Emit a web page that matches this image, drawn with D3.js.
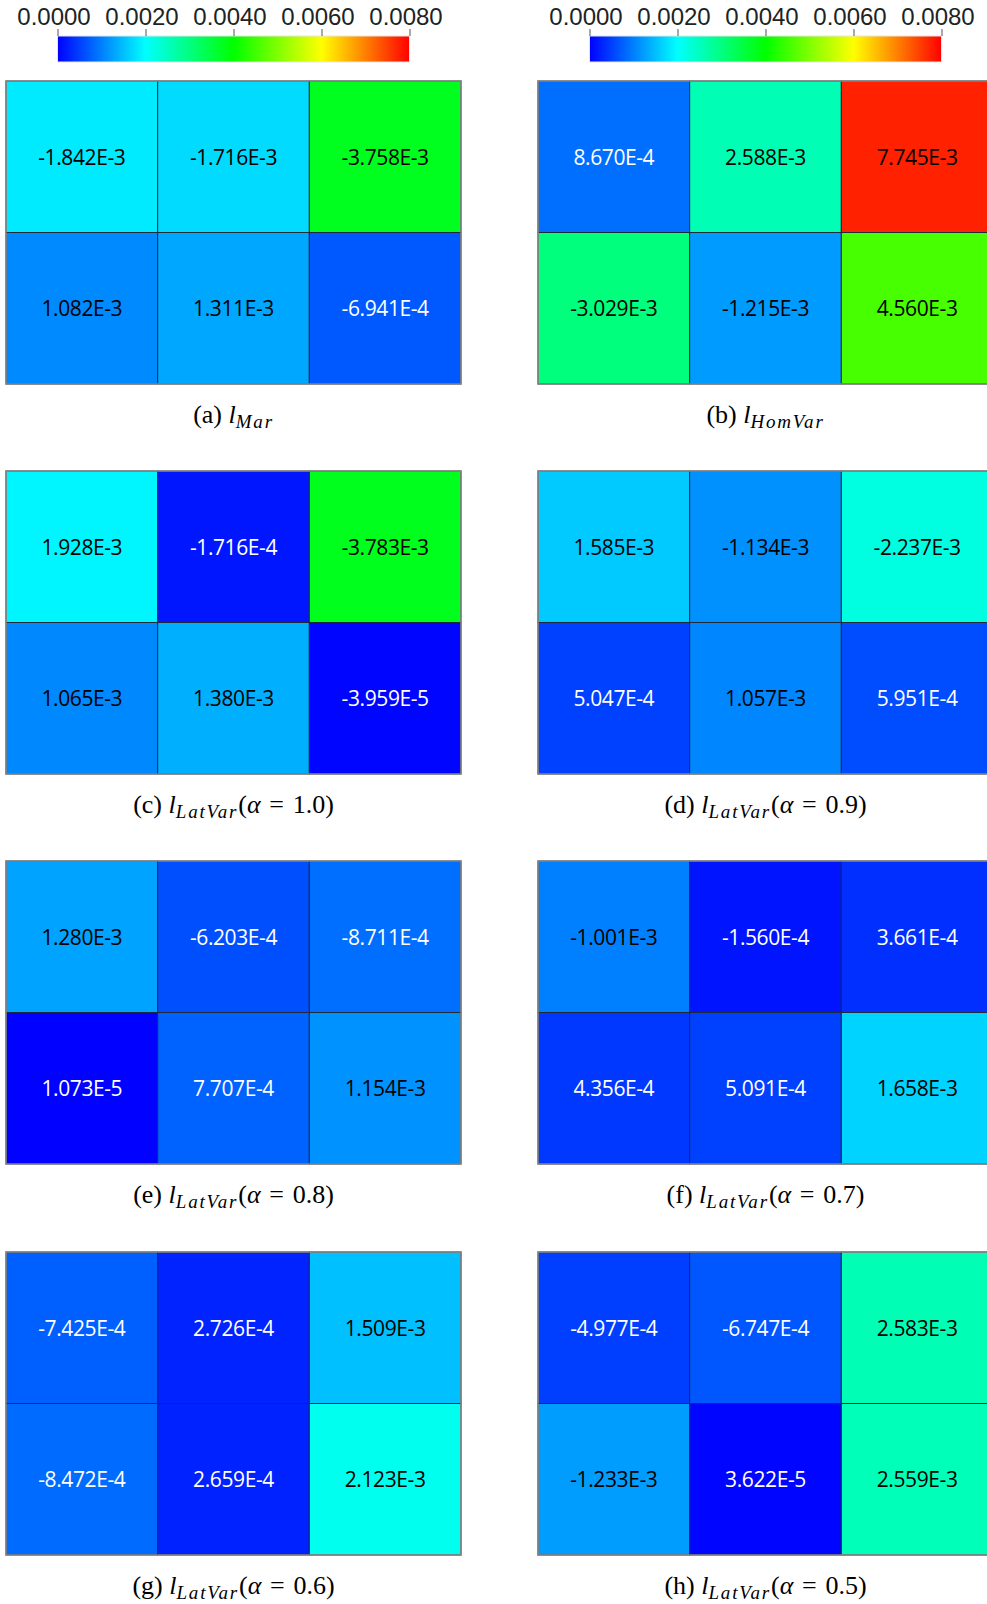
<!DOCTYPE html>
<html>
<head>
<meta charset="utf-8">
<script src="https://cdn.jsdelivr.net/npm/d3@7"></script>
<style>
  html, body { margin: 0; padding: 0; background: #fff; }
  svg { display: block; }
</style>
</head>
<body>
<svg id="fig" width="987" height="1604"></svg>
<script>
// Cell values for each case, 2 rows x 3 columns, listed row by row (top row first)
const valuesMar      = [-1.842e-3, -1.716e-3, -3.758e-3, 1.082e-3, 1.311e-3, -6.941e-4];
const valuesHomVar   = [8.670e-4, 2.588e-3, 7.745e-3, -3.029e-3, -1.215e-3, 4.560e-3];
const valuesLatVar10 = [1.928e-3, -1.716e-4, -3.783e-3, 1.065e-3, 1.380e-3, -3.959e-5];
const valuesLatVar09 = [1.585e-3, -1.134e-3, -2.237e-3, 5.047e-4, 1.057e-3, 5.951e-4];
const valuesLatVar08 = [1.280e-3, -6.203e-4, -8.711e-4, 1.073e-5, 7.707e-4, 1.154e-3];
const valuesLatVar07 = [-1.001e-3, -1.560e-4, 3.661e-4, 4.356e-4, 5.091e-4, 1.658e-3];
const valuesLatVar06 = [-7.425e-4, 2.726e-4, 1.509e-3, -8.472e-4, 2.659e-4, 2.123e-3];
const valuesLatVar05 = [-4.977e-4, -6.747e-4, 2.583e-3, -1.233e-3, 3.622e-5, 2.559e-3];

// Caption parts: letter, subscript of l, parameter text
const captionLetters = ["a", "b", "c", "d", "e", "f", "g", "h"];
const captionSubs    = ["Mar", "HomVar", "LatVar", "LatVar", "LatVar", "LatVar", "LatVar", "LatVar"];
const captionAlphas  = [null, null, "1.0", "0.9", "0.8", "0.7", "0.6", "0.5"];

// Colour bar
const colorStops = [0, 0.002, 0.004, 0.006, 0.008];
const colorRange = ["#0000ff", "#00ffff", "#00ff00", "#ffff00", "#ff0000"];
const colorTicks = [0, 0.002, 0.004, 0.006, 0.008];

const panels = [valuesMar, valuesHomVar, valuesLatVar10, valuesLatVar09,
                valuesLatVar08, valuesLatVar07, valuesLatVar06, valuesLatVar05];

const svg = d3.select("#fig");

const color = d3.scaleLinear().domain(colorStops).range(colorRange).clamp(true);

const panelW = 455, panelH = 303;
const colX = [6, 538];
const rowY = [81, 471, 861, 1252];

const xBand = d3.scaleBand().domain([0, 1, 2]).range([0, panelW]);
const yBand = d3.scaleBand().domain([0, 1]).range([0, panelH]);

const fmt = v => v.toExponential(3).replace("e", "E").replace("+", "");

// gradient for colour bars
const defs = svg.append("defs");
const grad = defs.append("linearGradient").attr("id", "jet")
  .attr("x1", "0%").attr("x2", "100%").attr("y1", "0%").attr("y2", "0%");
colorStops.forEach(s => {
  grad.append("stop")
    .attr("offset", (s / colorStops[colorStops.length - 1] * 100) + "%")
    .attr("stop-color", color(s));
});

// colour bars above each column
const barW = 352, barH = 26, barTop = 36;
colX.forEach(cx => {
  const bx = cx + (panelW - barW) / 2;
  const g = svg.append("g").attr("transform", `translate(${bx},${barTop})`);
  g.append("rect").attr("width", barW).attr("height", barH)
    .attr("fill", "url(#jet)").attr("stroke", "#e6e6e6").attr("stroke-width", 1);
  const s = d3.scaleLinear().domain([0, 0.008]).range([0, barW]);
  const ax = g.append("g").call(d3.axisTop(s).tickValues(colorTicks)
    .tickFormat(d3.format(".4f")).tickSize(7).tickPadding(4));
  ax.select(".domain").remove();
  ax.selectAll(".tick line").attr("stroke", "#555").attr("stroke-width", 1);
  ax.selectAll(".tick text")
    .attr("font-family", "'Liberation Sans', Arial, sans-serif")
    .attr("font-size", 24).attr("fill", "#222").attr("dx", -4);
});

// panels
panels.forEach((vals, i) => {
  const px = colX[i % 2], py = rowY[Math.floor(i / 2)];
  const g = svg.append("g").attr("transform", `translate(${px},${py})`);
  const cells = vals.map((v, k) => ({ v, c: k % 3, r: Math.floor(k / 3) }));

  g.selectAll("rect.cell").data(cells).join("rect").attr("class", "cell")
    .attr("x", d => xBand(d.c)).attr("y", d => yBand(d.r))
    .attr("width", xBand.bandwidth()).attr("height", yBand.bandwidth())
    .attr("fill", d => color(Math.abs(d.v)))
    .attr("stroke", "#1d2b3a").attr("stroke-width", 1);

  g.append("rect").attr("width", panelW).attr("height", panelH)
    .attr("fill", "none").attr("stroke", "#8a8a8a").attr("stroke-width", 1.5);

  g.selectAll("text.val").data(cells).join("text").attr("class", "val")
    .attr("x", d => xBand(d.c) + xBand.bandwidth() / 2)
    .attr("y", d => yBand(d.r) + yBand.bandwidth() / 2 + 8)
    .attr("text-anchor", "middle")
    .attr("font-family", "'Open Sans', sans-serif")
    .attr("font-size", 21).attr("letter-spacing", -0.4)
    .attr("fill", d => Math.abs(d.v) < 0.00095 ? "#ffffff" : "#000000")
    .text(d => fmt(d.v));

  // caption
  const cap = svg.append("text")
    .attr("x", px + panelW / 2).attr("y", py + panelH + 39)
    .attr("text-anchor", "middle")
    .attr("font-family", "'Liberation Serif', 'Times New Roman', serif")
    .attr("font-size", 26).attr("fill", "#000");
  cap.append("tspan").text(`(${captionLetters[i]}) `);
  cap.append("tspan").attr("font-style", "italic").text("l");
  cap.append("tspan").attr("font-style", "italic").attr("font-size", 19)
    .attr("dy", 5).attr("letter-spacing", 1.8).text(captionSubs[i]);
  if (captionAlphas[i] !== null) {
    cap.append("tspan").attr("dy", -5).text("(");
    cap.append("tspan").attr("font-style", "italic").text("α");
    cap.append("tspan").text(`\u2004=\u2004${captionAlphas[i]})`);
  }
});
</script>
</body>
</html>
